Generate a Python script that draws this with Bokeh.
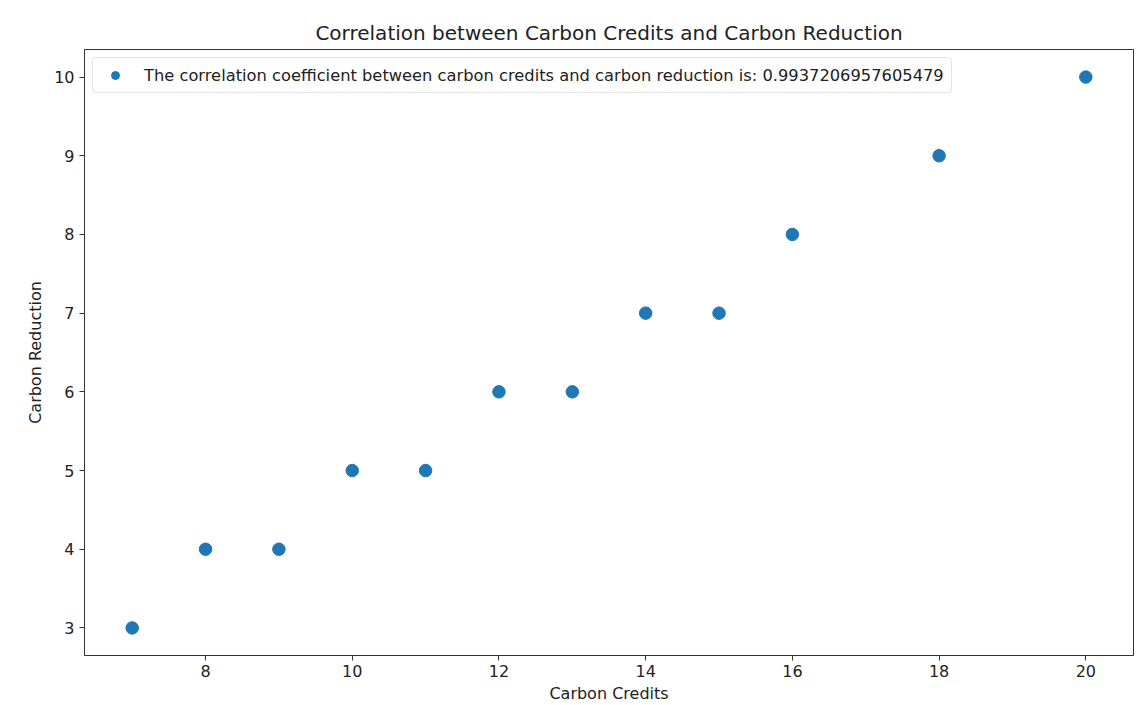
from bokeh.plotting import figure
from bokeh.models import FixedTicker, Range1d, ColumnDataSource, Legend, LegendItem
from bokeh.embed import file_html
from bokeh.resources import INLINE

carbon_credits = [7, 8, 9, 10, 11, 12, 13, 14, 15, 16, 18, 20]
carbon_reduction = [3, 4, 4, 5, 5, 6, 6, 7, 7, 8, 9, 10]
x_ticks = [8, 10, 12, 14, 16, 18, 20]
y_ticks = [3, 4, 5, 6, 7, 8, 9, 10]
legend_label = "The correlation coefficient between carbon credits and carbon reduction is: 0.9937206957605479"
title_text = "Correlation between Carbon Credits and Carbon Reduction"

FONT = "DejaVu Sans"

p = figure(width=1140, height=705, output_backend="svg", toolbar_location=None,
           x_range=Range1d(6.35, 20.65), y_range=Range1d(2.65, 10.35),
           min_border_left=84, min_border_right=7, min_border_top=49, min_border_bottom=50)

src = ColumnDataSource(dict(x=carbon_credits, y=carbon_reduction))
r = p.scatter("x", "y", source=src, size=12.5, color="#1f77b4", line_color="#1f77b4")

p.title.text = title_text
p.title.align = "center"
p.title.text_font = FONT
p.title.text_font_size = "20px"
p.title.text_font_style = "normal"
p.title.text_color = "#222222"
p.title.offset = 0

p.xgrid.visible = False
p.ygrid.visible = False
p.outline_line_color = "#333333"
p.outline_line_width = 1

for ax in (p.xaxis[0], p.yaxis[0]):
    ax.major_label_text_font = FONT
    ax.major_label_text_font_size = "16px"
    ax.major_label_text_color = "#222222"
    ax.axis_label_text_font = FONT
    ax.axis_label_text_font_size = "16px"
    ax.axis_label_text_font_style = "normal"
    ax.axis_label_text_color = "#222222"
    ax.minor_tick_line_color = None
    ax.major_tick_in = 0
    ax.major_tick_out = 5
    ax.axis_line_color = "#333333"
    ax.major_tick_line_color = "#333333"

p.xaxis.ticker = FixedTicker(ticks=x_ticks)
p.yaxis.ticker = FixedTicker(ticks=y_ticks)
p.xaxis.axis_label = "Carbon Credits"
p.yaxis.axis_label = "Carbon Reduction"
p.xaxis.major_label_standoff = 4
p.yaxis.major_label_standoff = 5
p.xaxis.axis_label_standoff = 4
p.yaxis.axis_label_standoff = 6

legend = Legend(items=[LegendItem(label=legend_label, renderers=[r])],
                location="top_left")
legend.label_text_font = FONT
legend.label_text_font_size = "16.3px"
legend.label_text_color = "#222222"
legend.border_line_color = "#cccccc"
legend.border_line_width = 1
legend.border_radius = 4
legend.margin = 8
legend.padding = 7
legend.glyph_width = 30
legend.label_standoff = 14
legend.background_fill_alpha = 0.8
p.add_layout(legend)

open("out.html", "w").write(file_html(p, INLINE))
